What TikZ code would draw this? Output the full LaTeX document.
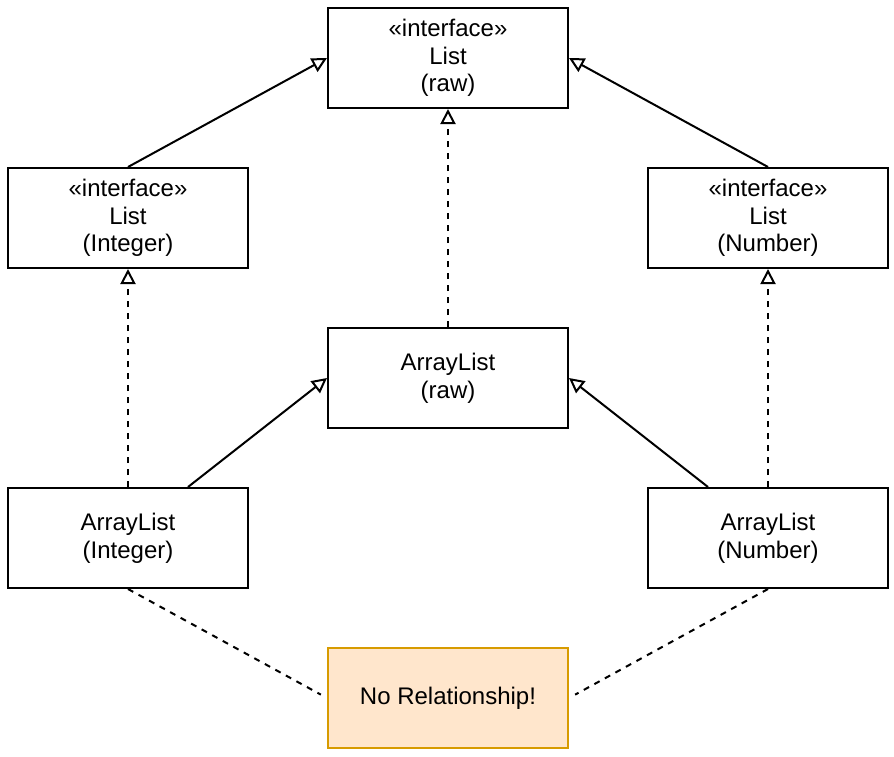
\documentclass[tikz,border=0pt]{standalone}
\usepackage{fontspec}
\setmainfont{Liberation Sans}
\usetikzlibrary{arrows.meta}
\definecolor{noteedge}{RGB}{215,155,0}
\definecolor{notefill}{RGB}{255,230,204}
\begin{document}
\begin{tikzpicture}[x=1pt,y=-1pt,
  box/.style={draw, line width=2pt, minimum width=240pt, minimum height=100pt, inner sep=0pt, align=center, font=\fontsize{24}{27.6}\selectfont, anchor=north west},
  note/.style={box, draw=noteedge, fill=notefill},
  gen/.style={line width=2pt, -{Triangle[open, length=15pt, width=15pt, line width=2pt]}},
  real/.style={gen, dash pattern=on 6pt off 6pt},
  rel/.style={line width=2pt, dash pattern=on 6pt off 6pt, shorten >=7pt}]
\useasboundingbox (0,0) rectangle (894,756);
\node[box] (lraw) at (327,7) {«interface»\\List\\(raw)};
\node[box] (lint) at (7,167) {«interface»\\List\\(Integer)};
\node[box] (lnum) at (647,167) {«interface»\\List\\(Number)};
\node[box] (araw) at (327,327) {ArrayList\\(raw)};
\node[box] (aint) at (7,487) {ArrayList\\(Integer)};
\node[box] (anum) at (647,487) {ArrayList\\(Number)};
\node[note] (nr) at (327,647) {No Relationship!};
\draw[gen] (lint.north) -- (lraw.west);
\draw[gen] (lnum.north) -- (lraw.east);
\draw[real] (araw.north) -- (lraw.south);
\draw[real] (aint.north) -- (lint.south);
\draw[real] (anum.north) -- (lnum.south);
\draw[gen] ([xshift=60pt]aint.north) -- (araw.west);
\draw[gen] ([xshift=-60pt]anum.north) -- (araw.east);
\draw[rel] (aint.south) -- (nr.west);
\draw[rel] (anum.south) -- (nr.east);
\end{tikzpicture}
\end{document}
